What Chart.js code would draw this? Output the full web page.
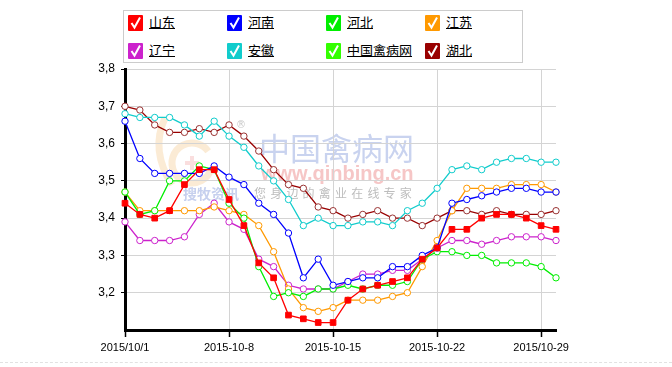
<!DOCTYPE html>
<html>
<head>
<meta charset="utf-8">
<script src="https://cdn.jsdelivr.net/npm/chart.js@4.4.0/dist/chart.umd.min.js"></script>
<style>
  html, body { margin: 0; padding: 0; background: #fff; }
  #wrap { position: relative; width: 672px; height: 367px; overflow: hidden; }
  #c { position: absolute; left: 0; top: 0; }
  #legend {
    position: absolute; left: 123px; top: 10px; width: 400px; height: 53px;
    border: 1px solid #ccc; background: #fff; box-sizing: border-box;
  }
  .item { position: absolute; height: 16px; font: 13px "Noto Sans CJK SC", sans-serif; }
  .box { position: absolute; left: 0; top: 0; width: 15px; height: 16px; }
  .lbl { position: absolute; left: 21px; top: -2px; text-decoration: underline; color: #000; white-space: nowrap; line-height: 18px; }
  #sep { position: absolute; left: 0; top: 362px; width: 672px; border-top: 1px dashed #e2e2e2; }
</style>
</head>
<body>
<div id="wrap">
  <canvas id="c" width="672" height="367"></canvas>
  <div id="legend"></div>
  <div id="sep"></div>
</div>
<script>
// days of October 2015
const categories = ['10/1','10/2','10/3','10/4','10/5','10/6','10/7','10/8','10/9','10/10',
    '10/11','10/12','10/13','10/14','10/15','10/16','10/17','10/18','10/19','10/20',
    '10/21','10/22','10/23','10/24','10/25','10/26','10/27','10/28','10/29','10/30'];
const tickIndex = [0, 7, 14, 21, 28];
const tickLabels = ['2015/10/1', '2015-10-8', '2015-10-15', '2015-10-22', '2015/10-29'];

const shandong = [3.44,3.41,3.40,3.42,3.49,3.53,3.53,3.45,3.38,3.28,3.24,3.14,3.13,3.12,3.12,3.18,3.21,3.22,3.23,3.24,3.29,3.32,3.37,3.37,3.40,3.41,3.41,3.40,3.38,3.37];
const henan = [3.66,3.56,3.52,3.52,3.52,3.52,3.54,3.51,3.49,3.44,3.41,3.36,3.24,3.29,3.22,3.23,3.24,3.24,3.27,3.27,3.30,3.32,3.44,3.45,3.46,3.47,3.48,3.48,3.47,3.47];
const hebei = [3.47,3.41,3.42,3.50,3.50,3.54,3.53,3.44,3.40,3.27,3.19,3.20,3.19,3.21,3.21,3.22,3.21,3.22,3.22,3.23,3.29,3.31,3.31,3.30,3.30,3.28,3.28,3.28,3.27,3.24];
const jiangsu = [3.47,3.42,3.42,3.42,3.42,3.42,3.43,3.42,3.41,3.38,3.31,3.21,3.16,3.15,3.16,3.18,3.18,3.18,3.19,3.20,3.27,3.34,3.42,3.48,3.48,3.48,3.49,3.49,3.49,3.47];
const liaoning = [3.39,3.34,3.34,3.34,3.35,3.41,3.44,3.39,3.37,3.29,3.27,3.22,3.21,3.21,3.21,3.23,3.25,3.25,3.26,3.26,3.29,3.32,3.34,3.34,3.33,3.34,3.35,3.35,3.35,3.34];
const anhui = [3.68,3.67,3.67,3.67,3.65,3.62,3.66,3.62,3.59,3.54,3.50,3.45,3.38,3.40,3.38,3.38,3.39,3.39,3.38,3.42,3.44,3.48,3.53,3.54,3.53,3.55,3.56,3.56,3.55,3.55];
const qinbing = [];
const hubei = [3.70,3.69,3.65,3.63,3.63,3.64,3.63,3.65,3.62,3.58,3.53,3.49,3.48,3.43,3.42,3.40,3.41,3.42,3.40,3.40,3.38,3.40,3.42,3.42,3.41,3.42,3.41,3.41,3.41,3.42];

const seriesNames = ['山东', '河南', '河北', '江苏', '辽宁', '安徽', '中国禽病网', '湖北'];
const seriesData = [shandong, henan, hebei, jiangsu, liaoning, anhui, qinbing, hubei];
const seriesColors = ['#ff0000', '#0000ff', '#00ee00', '#ff9900', '#cc22cc', '#11cccc', '#33ff00', '#990000'];

// legend (html)
const legend = document.getElementById('legend');
seriesNames.forEach(function(name, i) {
    const col = i % 4, row = Math.floor(i / 4);
    const el = document.createElement('div');
    el.className = 'item';
    el.style.left = (4 + col * 99) + 'px';
    el.style.top = (4 + row * 28) + 'px';
    el.innerHTML = '<svg class="box" width="15" height="16"><rect x="0" y="0" width="15" height="16" rx="1" fill="' +
        seriesColors[i] + '"/><polyline points="3.5,8 6.5,12.5 12,2.5" fill="none" stroke="#fff" stroke-width="2"/></svg>' +
        '<span class="lbl">' + name + '</span>';
    legend.appendChild(el);
});

// watermark behind the chart
const watermark = {
    id: 'watermark',
    beforeDraw(chart) {
        const ctx = chart.ctx;
        ctx.save();
        // logo
        ctx.strokeStyle = 'rgba(245,205,150,0.4)';
        ctx.lineWidth = 7;
        ctx.beginPath();
        ctx.arc(192, 163, 20, 0.3, Math.PI * 1.8);
        ctx.stroke();
        ctx.beginPath();
        ctx.moveTo(165, 118);
        ctx.quadraticCurveTo(150, 150, 172, 185);
        ctx.stroke();
        ctx.lineWidth = 4;
        ctx.beginPath();
        ctx.moveTo(185, 163); ctx.lineTo(199, 163);
        ctx.moveTo(192, 156); ctx.lineTo(192, 170);
        ctx.strokeStyle = 'rgba(240,160,160,0.35)';
        ctx.stroke();
        ctx.fillStyle = '#c8c8c8';
        ctx.font = '10px "DejaVu Sans"';
        ctx.fillText('®', 236, 128);

        ctx.fillStyle = '#c9d3ef';
        ctx.font = '31px "Noto Sans CJK SC"';
        ctx.textBaseline = 'alphabetic';
        ctx.fillText('中国禽病网', 259, 160);
        ctx.fillStyle = '#f6c6c6';
        ctx.font = 'bold 20px "Liberation Sans"';
        ctx.fillText('www.qinbing.cn', 261, 180);
        ctx.fillStyle = '#c6d0ee';
        ctx.font = 'bold 14px "Noto Sans CJK SC"';
        ctx.fillText('搜牧资讯', 183, 199);
        ctx.fillStyle = '#bdbdbd';
        ctx.font = '12px "Noto Sans CJK SC"';
        const s = '您身边的禽业在线专家';
        for (let k = 0; k < s.length; k++) ctx.fillText(s[k], 254 + k * 16.2, 198);
        ctx.restore();
    }
};

const datasets = seriesNames.map(function(name, i) {
    const isSquare = i === 0;
    return {
        label: name,
        data: seriesData[i],
        borderColor: seriesColors[i],
        backgroundColor: isSquare ? seriesColors[i] : '#fff',
        borderWidth: 1.3,
        pointStyle: isSquare ? 'rect' : 'circle',
        pointRadius: isSquare ? 4 : 3.2,
        pointBorderWidth: 1,
        pointBorderColor: i === 7 ? '#993333' : seriesColors[i],
        pointBackgroundColor: isSquare ? seriesColors[i] : '#fff',
        tension: 0,
        fill: false
    };
});

new Chart(document.getElementById('c'), {
    type: 'line',
    data: { labels: categories, datasets: datasets },
    plugins: [watermark],
    options: {
        responsive: false,
        animation: false,
        events: [],
        layout: { padding: { left: 0, right: 116, top: 69, bottom: 0 } },
        plugins: { legend: { display: false }, tooltip: { enabled: false } },
        scales: {
            x: {
                offset: false,
                afterFit: function(scale) { scale.height = 37; },
                border: { color: '#000', width: 3 },
                grid: {
                    color: function(c) {
                        return (c.index > 0 && tickIndex.indexOf(c.index) >= 0) ? '#d4d4d4' : 'rgba(0,0,0,0)';
                    },
                    tickColor: function(c) {
                        return tickIndex.indexOf(c.index) >= 0 ? '#000' : 'rgba(0,0,0,0)';
                    },
                    tickLength: 7,
                    tickWidth: 1.5
                },
                ticks: {
                    autoSkip: false,
                    maxRotation: 0,
                    padding: 4,
                    color: '#000',
                    font: { family: '"Liberation Sans", Arial', size: 11 },
                    callback: function(v, idx) {
                        const k = tickIndex.indexOf(idx);
                        return k >= 0 ? tickLabels[k] : '';
                    }
                }
            },
            y: {
                min: 3.1,
                max: 3.8,
                afterFit: function(scale) { scale.width = 125; },
                border: { color: '#000', width: 3 },
                grid: {
                    color: function(c) { return c.tick && c.tick.value < 3.15 ? 'rgba(0,0,0,0)' : '#d4d4d4'; },
                    tickColor: function(c) { return c.tick && c.tick.value < 3.15 ? 'rgba(0,0,0,0)' : '#000'; },
                    tickLength: 4
                },
                ticks: {
                    stepSize: 0.1,
                    padding: 6,
                    color: '#000',
                    font: { family: '"Liberation Sans", Arial', size: 12 },
                    callback: function(v) {
                        if (v < 3.15) return '';
                        return v.toFixed(1).replace('.', ',');
                    }
                }
            }
        }
    }
});
</script>
</body>
</html>
